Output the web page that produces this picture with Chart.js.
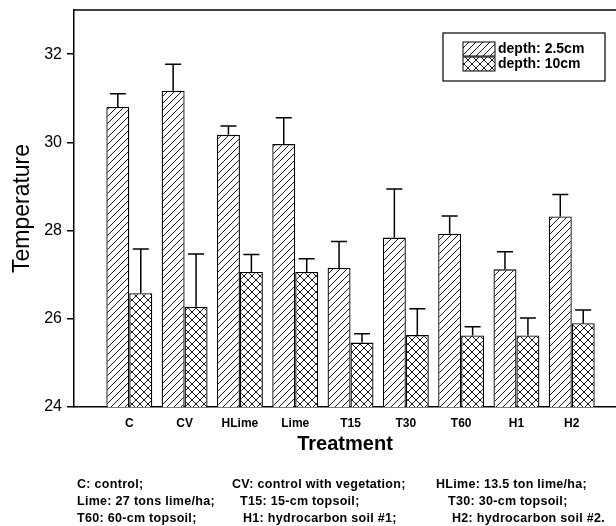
<!DOCTYPE html>
<html>
<head>
<meta charset="utf-8">
<script src="https://cdn.jsdelivr.net/npm/chart.js@4.4.0/dist/chart.umd.min.js"></script>
<style>
html, body { margin: 0; padding: 0; background: #fff; overflow: hidden; }
#wrap { position: relative; width: 616px; height: 526px; }
#chart { position: absolute; left: 0; top: 0; }
.note { position: absolute; font: bold 12.5px "Liberation Sans", Arial, sans-serif; letter-spacing: 0.3px; line-height: 15px; color: #000; white-space: nowrap; }
</style>
</head>
<body>
<div id="wrap">
  <canvas id="chart" width="616" height="526"></canvas>
  <div id="notes"></div>
</div>
<script>
const treatments = ["C", "CV", "HLime", "Lime", "T15", "T30", "T60", "H1", "H2"];
const depth25 = [30.80, 31.17, 30.17, 29.96, 27.15, 27.84, 27.93, 27.12, 28.32];
const depth25Err = [0.30, 0.60, 0.20, 0.60, 0.60, 1.10, 0.40, 0.40, 0.50];
const depth10 = [26.58, 26.27, 27.06, 27.06, 25.46, 25.63, 25.62, 25.62, 25.90];
const depth10Err = [1.00, 1.20, 0.40, 0.30, 0.20, 0.60, 0.20, 0.40, 0.30];
const yTicks = [24, 26, 28, 30, 32];
const noteRows = [
  ["C: control;", "CV: control with vegetation;", "HLime: 13.5 ton lime/ha;"],
  ["Lime: 27 tons lime/ha;", "T15: 15-cm topsoil;", "T30: 30-cm topsoil;"],
  ["T60: 60-cm topsoil;", "H1: hydrocarbon soil #1;", "H2: hydrocarbon soil #2."]
];

const FONT = '"Liberation Sans", Arial, sans-serif';

// footnotes under the chart
const noteCols = [[77, 232, 436], [77, 240, 448], [77, 243, 452]];
const notesDiv = document.getElementById("notes");
noteRows.forEach((row, r) => {
  row.forEach((txt, c) => {
    const span = document.createElement("div");
    span.className = "note";
    span.textContent = txt;
    span.style.left = noteCols[r][c] + "px";
    span.style.top = (477 + r * 17) + "px";
    notesDiv.appendChild(span);
  });
});

function makePattern(kind) {
  const s = kind === "hatch" ? 7 : 8;
  const c = document.createElement("canvas");
  c.width = s;
  c.height = s;
  const g = c.getContext("2d");
  g.fillStyle = "#fff";
  g.fillRect(0, 0, s, s);
  g.strokeStyle = "#000";
  g.lineWidth = 0.9;
  g.beginPath();
  // forward slashes
  g.moveTo(-1, s + 1); g.lineTo(s + 1, -1);
  g.moveTo(-1, 1); g.lineTo(1, -1);
  g.moveTo(s - 1, s + 1); g.lineTo(s + 1, s - 1);
  if (kind === "cross") {
    // back slashes
    g.moveTo(-1, -1); g.lineTo(s + 1, s + 1);
    g.moveTo(s - 1, -1); g.lineTo(s + 1, 1);
    g.moveTo(-1, s - 1); g.lineTo(1, s + 1);
  }
  g.stroke();
  return g.createPattern(c, "repeat");
}

const hatch = makePattern("hatch");
const cross = makePattern("cross");

const errorBars = {
  id: "errorBars",
  afterDatasetsDraw(chart) {
    const ctx = chart.ctx;
    const y = chart.scales.y;
    chart.data.datasets.forEach((ds, di) => {
      const meta = chart.getDatasetMeta(di);
      meta.data.forEach((bar, i) => {
        const top = y.getPixelForValue(ds.data[i].y + ds.errors[i]);
        ctx.save();
        ctx.strokeStyle = "#000";
        ctx.lineWidth = 1.5;
        ctx.beginPath();
        ctx.moveTo(bar.x, bar.y);
        ctx.lineTo(bar.x, top);
        ctx.moveTo(bar.x - 8, top);
        ctx.lineTo(bar.x + 8, top);
        ctx.stroke();
        ctx.restore();
      });
    });
  }
};

// top frame line + boxed legend
const frame = {
  id: "frame",
  afterDraw(chart) {
    const ctx = chart.ctx;
    const a = chart.chartArea;
    ctx.save();
    ctx.strokeStyle = "#000";
    ctx.lineWidth = 1.5;
    ctx.beginPath();
    ctx.moveTo(a.left, a.top);
    ctx.lineTo(a.right, a.top);
    ctx.stroke();

    const bx = a.right - 173, by = a.top + 23, bw = 162, bh = 48;
    ctx.fillStyle = "#fff";
    ctx.fillRect(bx, by, bw, bh);
    ctx.lineWidth = 1.2;
    ctx.strokeRect(bx, by, bw, bh);
    chart.data.datasets.forEach((ds, i) => {
      const sy = by + 9 + i * 15;
      ctx.fillStyle = ds.backgroundColor;
      ctx.fillRect(bx + 20, sy, 32, 14);
      ctx.lineWidth = 1;
      ctx.strokeRect(bx + 20, sy, 32, 14);
      ctx.fillStyle = "#000";
      ctx.font = "bold 14px " + FONT;
      ctx.textBaseline = "middle";
      ctx.fillText(ds.label, bx + 55, sy + 7);
    });
    ctx.restore();
  }
};

const ctx = document.getElementById("chart").getContext("2d");

new Chart(ctx, {
  type: "bar",
  data: {
    datasets: [
      {
        label: "depth: 2.5cm",
        data: depth25.map((v, i) => ({ x: i + 1, y: v })),
        errors: depth25Err,
        backgroundColor: hatch,
        borderColor: "#000",
        borderWidth: 1.3,
        categoryPercentage: 0.83,
        barPercentage: 1
      },
      {
        label: "depth: 10cm",
        data: depth10.map((v, i) => ({ x: i + 1, y: v })),
        errors: depth10Err,
        backgroundColor: cross,
        borderColor: "#000",
        borderWidth: 1.3,
        categoryPercentage: 0.83,
        barPercentage: 1
      }
    ]
  },
  options: {
    responsive: false,
    animation: false,
    layout: { padding: { top: 10, left: 0, right: 0, bottom: 70 } },
    plugins: {
      legend: { display: false },
      tooltip: { enabled: false }
    },
    scales: {
      x: {
        type: "linear",
        offset: false,
        min: 0,
        max: 9.8,
        afterBuildTicks: s => { s.ticks = treatments.map((_, i) => ({ value: i + 1 })); },
        afterFit: s => { s.height = 49; s.paddingLeft = 0; s.paddingRight = 0; },
        grid: { display: false, drawTicks: false },
        border: { color: "#000", width: 1.5 },
        ticks: {
          autoSkip: false,
          maxRotation: 0,
          padding: 9,
          color: "#000",
          font: { family: FONT, weight: "bold", size: 12 },
          callback: v => treatments[v - 1] || ""
        },
        title: {
          display: true,
          text: "Treatment",
          color: "#000",
          padding: 0,
          font: { family: FONT, weight: "bold", size: 20 }
        }
      },
      y: {
        min: 24,
        max: 33,
        afterBuildTicks: s => { s.ticks = yTicks.map(v => ({ value: v })); },
        afterFit: s => { s.width = 74; s.paddingTop = 0; s.paddingBottom = 0; },
        grid: { drawOnChartArea: false, drawTicks: true, tickLength: 7, color: "#000", lineWidth: 1.5 },
        border: { color: "#000", width: 1.5 },
        ticks: {
          padding: 5,
          color: "#000",
          font: { family: FONT, size: 16 }
        },
        title: {
          display: true,
          text: "Temperature",
          color: "#000",
          padding: { top: 9, bottom: 0 },
          font: { family: FONT, size: 23 }
        }
      }
    }
  },
  plugins: [errorBars, frame]
});
</script>
</body>
</html>
